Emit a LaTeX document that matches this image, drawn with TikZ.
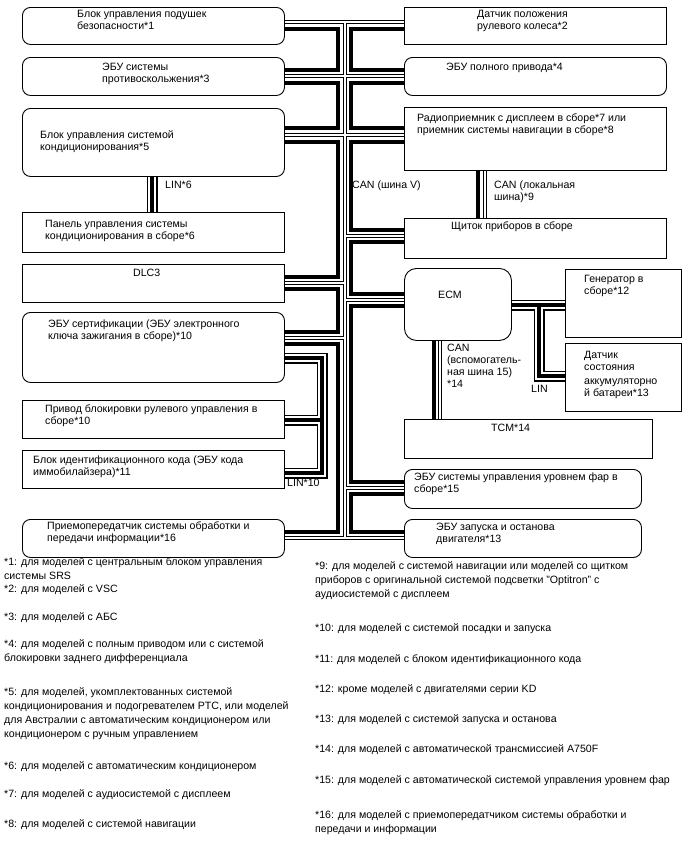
\documentclass[tikz,border=0pt]{standalone}
\usepackage{fontspec}
\setmainfont{Liberation Sans}
\usetikzlibrary{positioning}

\begin{document}
\begin{tikzpicture}[x=1pt, y=-1pt,
  box/.style={draw, line width=0.9pt, anchor=north west, inner sep=0pt, minimum width=262pt},
  rbox/.style={box, rounded corners=8pt},
  txt/.style={anchor=north west, align=left, inner sep=0pt, font=\fontsize{10.6}{12}\selectfont},
  note/.style={txt, font=\fontsize{10.6}{14}\selectfont},
  canh/.style={line width=3.6pt},
  canl/.style={double, line width=1pt, double distance=2pt},
  lin/.style={line width=4pt, preaction={draw, line width=11pt}, preaction={draw, white, line width=8.6pt}},
]
\useasboundingbox (0,0) rectangle (688,852);

% left column
\node[rbox, minimum height=37pt] (airbag) at (22,7) {};
\node[rbox, minimum height=38pt] (skid) at (22,57) {};
\node[rbox, minimum height=68pt] (aircon) at (22,108) {};
\node[box, minimum height=40pt] (acpanel) at (22,212) {};
\node[box, minimum height=38pt] (dlc) at (22,264) {};
\node[rbox, minimum height=70pt] (certif) at (22,312) {};
\node[box, minimum height=38pt] (lock) at (22,400) {};
\node[box, minimum height=38pt] (immo) at (22,450) {};
\node[rbox, minimum height=38pt] (dcm) at (22,519) {};

% right column
\node[box, minimum height=37pt] (steer) at (404,7) {};
\node[rbox, minimum height=38pt] (awd) at (404,57) {};
\node[box, minimum height=63pt] (radio) at (404,107) {};
\node[box, minimum height=40pt] (meter) at (404,218) {};
\node[box, rounded corners=12pt, minimum width=107pt, minimum height=72pt] (ecm) at (404,268) {};
\node[box, minimum width=116pt, minimum height=68pt] (gen) at (565,269) {};
\node[box, minimum width=116pt, minimum height=68pt] (batt) at (565,343) {};
\node[box, minimum width=248pt, minimum height=39pt] (tcm) at (404,419) {};
\node[rbox, minimum width=237pt, minimum height=39pt] (leveling) at (404,469) {};
\node[rbox, minimum width=237pt, minimum height=38pt] (stopstart) at (404,519) {};

% box texts
\node[txt] (airbagt) at (77,10.5) {Блок управления подушек\\безопасности*1};
\node[txt] (skidt) at (102,62.5) {ЭБУ системы\\противоскольжения*3};
\node[txt] (aircont) at (40,130.5) {Блок управления системой\\кондиционирования*5};
\node[txt] (acpanelt) at (45,220.5) {Панель управления системы\\кондиционирования в сборе*6};
\node[txt] (dlct) at (133,268.5) {DLC3};
\node[txt] (certift) at (48,319.5) {ЭБУ сертификации (ЭБУ электронного\\ключа зажигания в сборе)*10};
\node[txt] (lockt) at (45,404.5) {Привод блокировки рулевого управления в\\сборе*10};
\node[txt] (immot) at (33,455.5) {Блок идентификационного кода (ЭБУ кода\\иммобилайзера)*11};
\node[txt] (dcmt) at (47,521.5) {Приемопередатчик системы обработки и\\передачи информации*16};
\node[txt] (steert) at (477,10.5) {Датчик положения\\рулевого колеса*2};
\node[txt] (awdt) at (446,62.5) {ЭБУ полного привода*4};
\node[txt] (radiot) at (417,113.5) {Радиоприемник с дисплеем в сборе*7 или\\приемник системы навигации в сборе*8};
\node[txt] (metert) at (451,221.5) {Щиток приборов в сборе};
\node[txt] (ecmt) at (438,291) {ECM};
\node[txt] (gent) at (584,274.5) {Генератор в\\сборе*12};
\node[txt, font=\fontsize{10.6}{13}\selectfont] (battt) at (584,350.5) {Датчик\\состояния\\аккумуляторно\\й батареи*13};
\node[txt] (tcmt) at (491,423.5) {TCM*14};
\node[txt] (levelingt) at (414,472.5) {ЭБУ системы управления уровнем фар в\\сборе*15};
\node[txt] (stopstartt) at (436,522.5) {ЭБУ запуска и останова\\двигателя*13};

% CAN V bus
\coordinate (vtop) at (344.5,22);
\coordinate (vbot) at (344.5,538);
\draw[canl] (vtop) -- (vbot)
  (airbag.east |- vtop) -- (steer.west |- vtop)
  (skid.east |- 0,76) -- (awd.west |- 0,76)
  (aircon.east |- 0,135) -- (radio.west |- 0,135)
  (dlc.east |- 0,283) -- (vtop |- 0,283)
  (certif.east |- 0,338) -- (vtop |- 0,338)
  (vtop |- 0,236) -- (meter.west |- 0,236)
  (vtop |- 0,300) -- (ecm.west |- 0,300)
  (vtop |- 0,488) -- (leveling.west |- 0,488)
  (dcm.east |- vbot) -- (stopstart.west |- vbot);
\draw[canh] (airbag.east |- 0,29) -| (338,70) -- (skid.east |- 0,70)
  (skid.east |- 0,83) -| (338,128) -- (aircon.east |- 0,128)
  (aircon.east |- 0,142) -| (338,277) -- (dlc.east |- 0,277)
  (dlc.east |- 0,289) -| (338,332) -- (certif.east |- 0,332)
  (certif.east |- 0,344) -| (338,532) -- (dcm.east |- 0,532)
  (steer.west |- 0,29) -| (351,70) -- (awd.west |- 0,70)
  (awd.west |- 0,83) -| (351,128) -- (radio.west |- 0,128)
  (radio.west |- 0,142) -| (351,230) -- (meter.west |- 0,230)
  (meter.west |- 0,242) -| (351,294) -- (ecm.west |- 0,294)
  (ecm.west |- 0,306) -| (351,482) -- (leveling.west |- 0,482)
  (leveling.west |- 0,494) -| (351,532) -- (stopstart.west |- 0,532);

% local buses
\draw[lin] (aircon.south -| 152,0) -- (acpanel.north -| 152,0);
\draw[canh] (radio.south -| 478,0) -- (meter.north -| 478,0);
\draw[canl] (radio.south -| 485,0) -- (meter.north -| 485,0);
\draw[canh] (ecm.south -| 434,0) -- (tcm.north -| 434,0);
\draw[canl] (ecm.south -| 440,0) -- (tcm.north -| 440,0);
\draw[lin] (ecm.east |- 0,305) -- (gen.west |- 0,305)
  (539,305) |- (batt.west |- 0,376);
\draw[lin] (certif.east |- 0,358) -| (322,473) -- (immo.east |- 0,473)
  (322,420) -- (lock.east |- 0,420);

% bus labels
\node[txt] (lin6) at (165,180.5) {LIN*6};
\node[txt] (canv) at (352,180.5) {CAN (шина V)};
\node[txt] (canloc) at (494,180.5) {CAN (локальная\\шина)*9};
\node[txt] (cansub) at (447,343.5) {CAN\\(вспомогатель-\\ная шина 15)\\*14};
\node[txt] (linbatt) at (531,385.5) {LIN};
\node[txt] (lin10) at (287,478.5) {LIN*10};

% notes
\node[note] (n1) at (4,557.5) {*1: для моделей с центральным блоком управления\\системы SRS};
\node[note] (n2) at (4,584.5) {*2: для моделей с VSC};
\node[note] (n3) at (4,612.5) {*3: для моделей с АБС};
\node[note] (n4) at (4,639.5) {*4: для моделей с полным приводом или с системой\\блокировки заднего дифференциала};
\node[note] (n5) at (4,687.5) {*5: для моделей, укомплектованных системой\\кондиционирования и подогревателем PTC, или моделей\\для Австралии с автоматическим кондиционером или\\кондиционером с ручным управлением};
\node[note] (n6) at (4,761.5) {*6: для моделей с автоматическим кондиционером};
\node[note] (n7) at (4,789.5) {*7: для моделей с аудиосистемой с дисплеем};
\node[note] (n8) at (4,819.5) {*8: для моделей с системой навигации};
\node[note] (n9) at (315,561.5) {*9: для моделей с системой навигации или моделей со щитком\\приборов с оригинальной системой подсветки "Optitron" с\\аудиосистемой с дисплеем};
\node[note] (n10) at (315,623.5) {*10: для моделей с системой посадки и запуска};
\node[note] (n11) at (315,654.5) {*11: для моделей с блоком идентификационного кода};
\node[note] (n12) at (315,684.5) {*12: кроме моделей с двигателями серии KD};
\node[note] (n13) at (315,714.5) {*13: для моделей с системой запуска и останова};
\node[note] (n14) at (315,744.5) {*14: для моделей с автоматической трансмиссией A750F};
\node[note] (n15) at (315,775.5) {*15: для моделей с автоматической системой управления уровнем фар};
\node[note] (n16) at (315,810.5) {*16: для моделей с приемопередатчиком системы обработки и\\передачи и информации};
\end{tikzpicture}
\end{document}
